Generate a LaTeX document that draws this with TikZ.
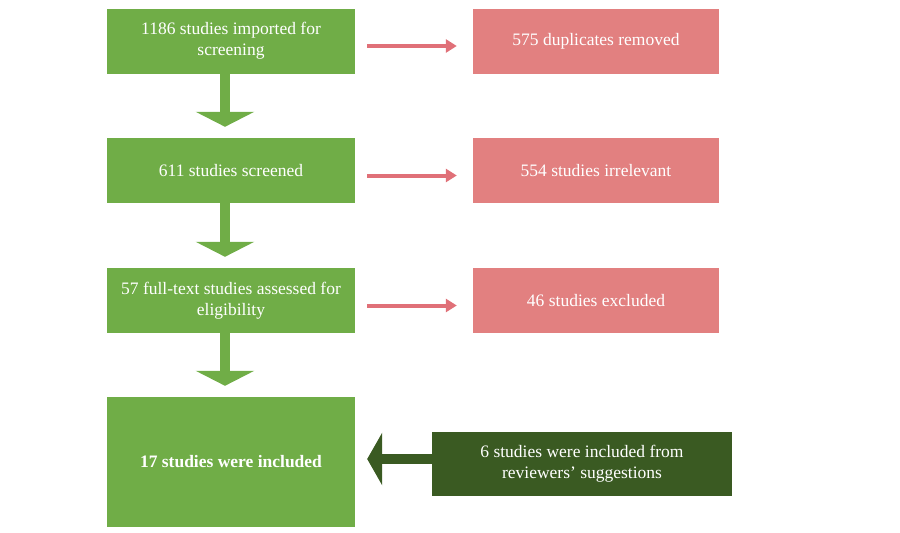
\documentclass[tikz,border=0pt]{standalone}
\usepackage{fontspec}
\setmainfont{Liberation Serif}
\usetikzlibrary{arrows.meta}
\definecolor{boxgreen}{HTML}{70AD47}
\definecolor{boxred}{HTML}{E28080}
\definecolor{arrred}{HTML}{E07078}
\definecolor{darkgreen}{HTML}{3A5A22}
\begin{document}
\begin{tikzpicture}
    [x=1pt,y=-1pt,
     stage/.style={rectangle,fill=boxgreen,text=white,minimum width=248pt,minimum height=65pt,align=center,font=\fontsize{17.5}{21}\selectfont},
     removed/.style={rectangle,fill=boxred,text=white,minimum width=246pt,minimum height=65pt,align=center,font=\fontsize{17.5}{21}\selectfont},
     extra/.style={rectangle,fill=darkgreen,text=white,minimum width=300pt,minimum height=64pt,align=center,font=\fontsize{17.5}{21}\selectfont},
     down/.style={boxgreen,line width=10pt,shorten >=11pt,-{Triangle[width=58pt,length=15pt]}},
     side/.style={arrred,line width=4pt,-{Triangle[width=13pt,length=11pt]}}]
    \useasboundingbox (0,0) rectangle (900,533);
    \node (imported) at (231,41)    [stage] {1186 studies imported for\\screening};
    \node (screened) at (231,170.5) [stage] {611 studies screened};
    \node (fulltext) at (231,300.5) [stage] {57 full-text studies assessed for\\eligibility};
    \node (included) at (231,462) [stage,minimum height=130pt] {\textbf{17 studies were included}};
    \node (duplic)   at (596,41)    [removed] {575 duplicates removed};
    \node (irrelev)  at (596,170.5) [removed] {554 studies irrelevant};
    \node (excluded) at (596,300.5) [removed] {46 studies excluded};
    \node (reviewer) at (582,464) [extra] {6 studies were included from\\reviewers’ suggestions};
    \draw [down] ([xshift=-6pt]imported.south) -- ([xshift=-6pt]screened.north);
    \draw [down] ([xshift=-6pt]screened.south) -- ([xshift=-6pt]fulltext.north);
    \draw [down] ([xshift=-6pt]fulltext.south) -- ([xshift=-6pt]included.north);
    \draw [side] ([xshift=12pt,yshift=-5pt]imported.east) -- ([xshift=-16pt,yshift=-5pt]duplic.west);
    \draw [side] ([xshift=12pt,yshift=-5pt]screened.east) -- ([xshift=-16pt,yshift=-5pt]irrelev.west);
    \draw [side] ([xshift=12pt,yshift=-5pt]fulltext.east) -- ([xshift=-16pt,yshift=-5pt]excluded.west);
    \draw [darkgreen,line width=10pt,-{Triangle[width=52pt,length=15pt]}] ([yshift=5pt]reviewer.west) -- ([xshift=12pt,yshift=5pt]included.east |- reviewer.west);
  \end{tikzpicture}
\end{document}
